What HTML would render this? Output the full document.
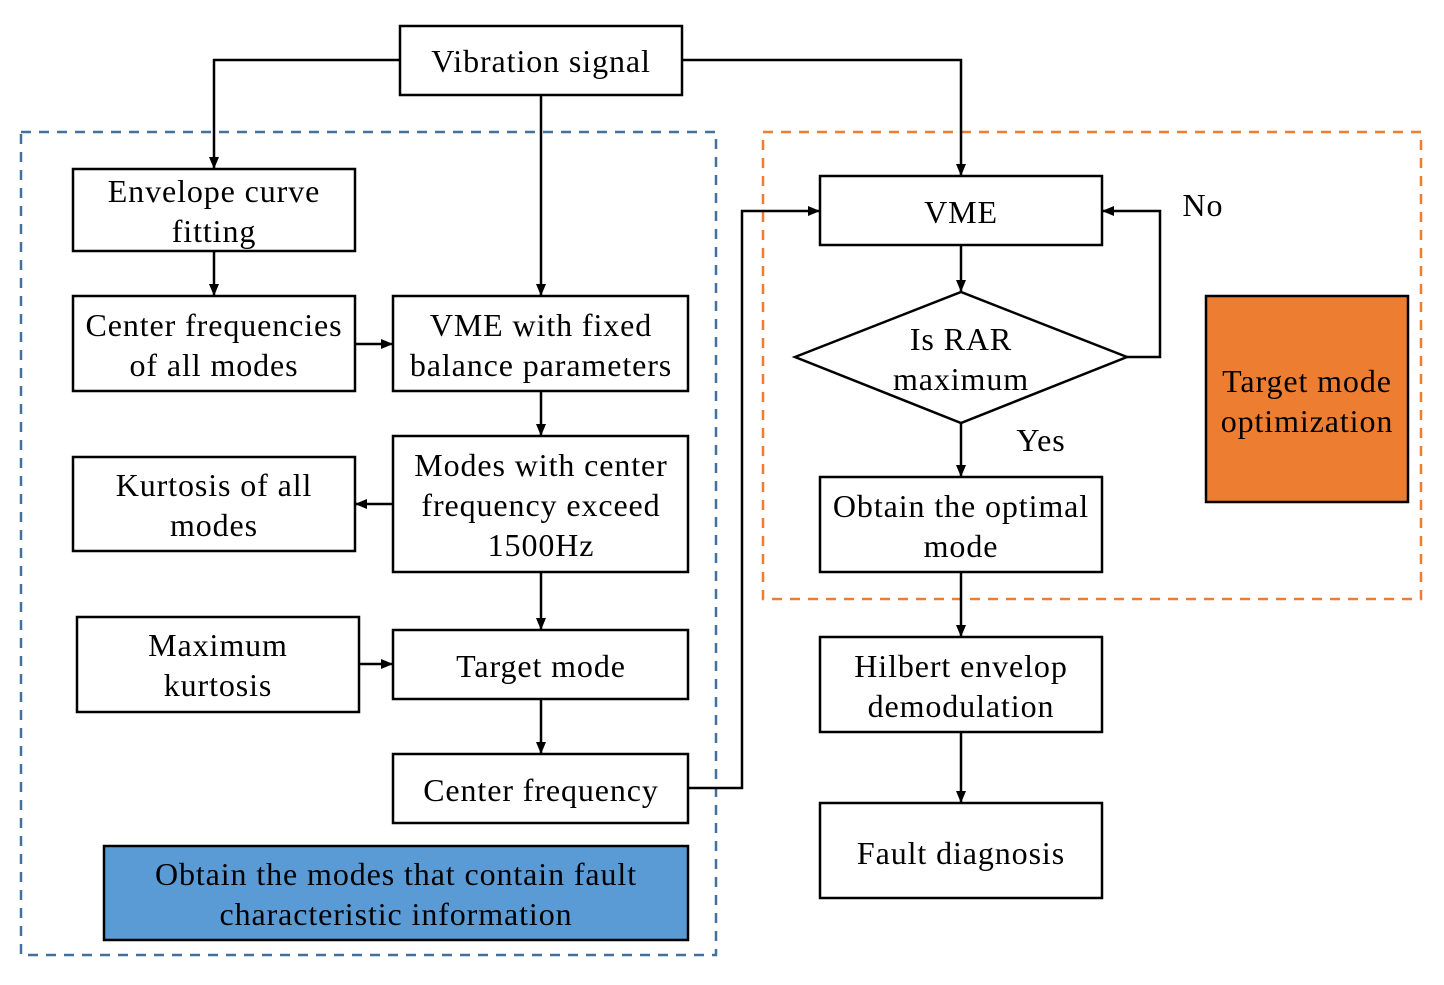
<!DOCTYPE html>
<html><head><meta charset="utf-8"><style>
html,body{margin:0;padding:0;background:#fff}
svg text{font-family:"Liberation Serif",serif;font-size:32px;letter-spacing:0.9px;fill:#000;text-anchor:middle}
</style></head><body>
<svg width="1444" height="980" viewBox="0 0 1444 980" xmlns="http://www.w3.org/2000/svg">
<defs><marker id="a" markerWidth="12" markerHeight="10" refX="11" refY="5" orient="auto" markerUnits="userSpaceOnUse"><path d="M0,0 L12,5 L0,10 z" fill="#000"/></marker></defs>
<rect x="21" y="132" width="695" height="823" fill="none" stroke="#41719c" stroke-width="2.5" stroke-dasharray="10,8"/>
<rect x="763" y="132" width="658" height="467" fill="none" stroke="#ed7d31" stroke-width="2.5" stroke-dasharray="10,8"/>
<g fill="#fff" stroke="#000" stroke-width="2.5">
<rect x="400" y="26" width="282" height="69"/>
<rect x="73" y="169" width="282" height="82"/>
<rect x="73" y="296" width="282" height="95"/>
<rect x="393" y="296" width="295" height="95"/>
<rect x="73" y="457" width="282" height="94"/>
<rect x="393" y="436" width="295" height="136"/>
<rect x="77" y="617" width="282" height="95"/>
<rect x="393" y="630" width="295" height="69"/>
<rect x="393" y="754" width="295" height="69"/>
<rect x="104" y="846" width="584" height="94" fill="#5b9bd5"/>
<rect x="820" y="176" width="282" height="69"/>
<polygon points="795,357 961,292 1127,357 961,423"/>
<rect x="820" y="477" width="282" height="95"/>
<rect x="820" y="637" width="282" height="95"/>
<rect x="820" y="803" width="282" height="95"/>
<rect x="1206" y="296" width="202" height="206" fill="#ed7d31"/>
</g>
<g fill="none" stroke="#000" stroke-width="2.5" marker-end="url(#a)">
<path d="M400,60 H214 V168"/>
<path d="M682,60 H961 V175"/>
<path d="M541,95 V295"/>
<path d="M214,251 V295"/>
<path d="M355,344 H392"/>
<path d="M393,504 H356"/>
<path d="M541,391 V435"/>
<path d="M541,572 V629"/>
<path d="M359,664 H392"/>
<path d="M541,699 V753"/>
<path d="M688,788 H742 V211 H819"/>
<path d="M961,245 V291"/>
<path d="M1127,357 H1160 V211 H1103"/>
<path d="M961,423 V476"/>
<path d="M961,572 V636"/>
<path d="M961,732 V802"/>
</g>
<text x="541" y="72">Vibration signal</text>
<text x="214" y="202">Envelope curve</text><text x="214" y="242">fitting</text>
<text x="214" y="336">Center frequencies</text><text x="214" y="376">of all modes</text>
<text x="541" y="336">VME with fixed</text><text x="541" y="376">balance parameters</text>
<text x="214" y="496">Kurtosis of all</text><text x="214" y="536">modes</text>
<text x="541" y="476">Modes with center</text><text x="541" y="516">frequency exceed</text><text x="541" y="556">1500Hz</text>
<text x="218" y="656">Maximum</text><text x="218" y="696">kurtosis</text>
<text x="541" y="677">Target mode</text>
<text x="541" y="801">Center frequency</text>
<text x="396" y="885">Obtain the modes that contain fault</text><text x="396" y="925">characteristic information</text>
<text x="961" y="223">VME</text>
<text x="961" y="350">Is RAR</text><text x="961" y="390">maximum</text>
<text x="961" y="517">Obtain the optimal</text><text x="961" y="557">mode</text>
<text x="961" y="677">Hilbert envelop</text><text x="961" y="717">demodulation</text>
<text x="961" y="864">Fault diagnosis</text>
<text x="1307" y="392">Target mode</text><text x="1307" y="432">optimization</text>
<text x="1203" y="216">No</text>
<text x="1041" y="451">Yes</text>
</svg>
</body></html>
